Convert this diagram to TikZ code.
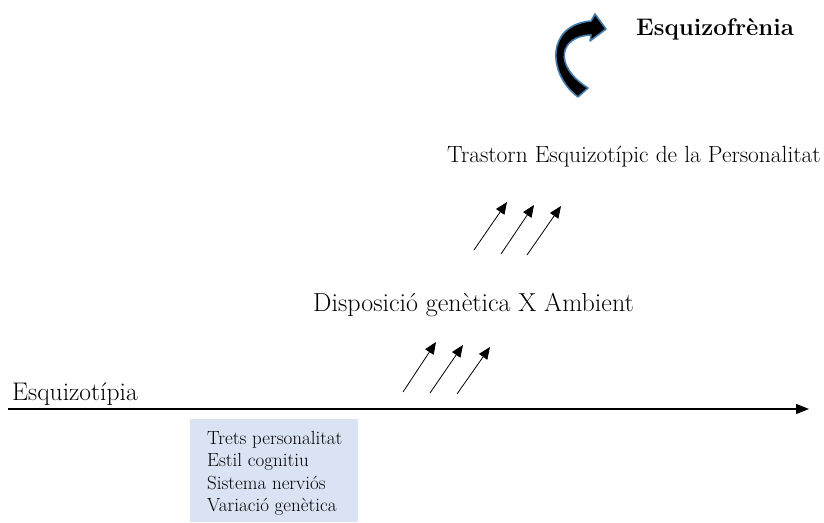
\documentclass[tikz,border=0pt]{standalone}
\usepackage{xcolor}
\usepackage{tikz}
\usetikzlibrary{arrows.meta, positioning, calc}

\definecolor{boxblue}{RGB}{218,227,243}
\definecolor{glowblue}{RGB}{70,125,175}

\begin{document}
\begin{tikzpicture}[
    x=1pt, y=-1pt,
    lbl/.style={inner sep=0pt, anchor=base west},
    factor/.style={->, >={Triangle[length=12pt, width=10pt]}, draw=black, line width=0.8pt},
    axis/.style={->, >={Triangle[length=13pt, width=10pt]}, draw=black, line width=1.3pt}
]
    \useasboundingbox (0,0) rectangle (824,522);

    % --- Axis ---
    \coordinate (axstart) at (8,409);
    \coordinate (axend) at (809,409);
    \draw[axis] (axstart) -- (axend);
    \node[lbl, font=\fontsize{25.5}{30}\selectfont] (esqtip) at (12,400) {Esquizotípia};

    % --- Box of factors ---
    \fill[boxblue] (190,419) rectangle (358,522);
    \node[font=\fontsize{19}{22.5}\selectfont, align=left, anchor=north west, inner sep=0pt] (factors) at (207,431)
        {Trets personalitat\\Estil cognitiu\\Sistema nerviós\\Variació genètica};

    % --- Lower arrows ---
    \foreach \i/\tx/\ty/\hx/\hy in {1/403/392/436/342, 2/430/393/463/345, 3/457/394/490/347} {
        \coordinate (lt\i) at (\tx,\ty);
        \coordinate (lh\i) at (\hx,\hy);
        \draw[factor] (lt\i) -- (lh\i);
    }
    \node[lbl, font=\fontsize{26}{30}\selectfont] (dispos) at (313,311) {Disposició genètica X Ambient};

    % --- Upper arrows ---
    \foreach \i/\tx/\ty/\hx/\hy in {1/474/250/507/202, 2/501/254/534/205, 3/527/255/561/206} {
        \coordinate (ut\i) at (\tx,\ty);
        \coordinate (uh\i) at (\hx,\hy);
        \draw[factor] (ut\i) -- (uh\i);
    }
    \node[lbl, font=\fontsize{23.4}{28}\selectfont] (trastorn) at (447,162) {Trastorn Esquizotípic de la Personalitat};

    % --- Curved arrow to schizophrenia ---
    \filldraw[fill=black, draw=glowblue, line width=1.6pt, line join=round]
        (578,97) .. controls (548,75) and (545,25) .. (591,21)
        -- (595,14) -- (606,29) -- (590,41) -- (591,35)
        .. controls (560,36) and (552,65) .. (588,88) -- cycle;
    \node[lbl, font=\fontsize{24}{28}\selectfont\bfseries] (esqfren) at (636,35) {Esquizofrènia};
\end{tikzpicture}
\end{document}
